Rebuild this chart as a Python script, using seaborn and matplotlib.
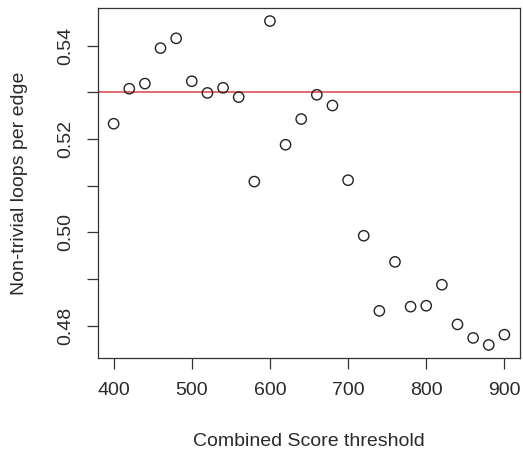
import matplotlib
matplotlib.use("Agg")
import matplotlib.pyplot as plt
import seaborn as sns
import pandas as pd

thresholds = [400, 420, 440, 460, 480, 500, 520, 540, 560, 580, 600, 620, 640,
              660, 680, 700, 720, 740, 760, 780, 800, 820, 840, 860, 880, 900]
loops_per_edge = [0.5233, 0.5308, 0.5319, 0.5395, 0.5416, 0.5324, 0.5299, 0.5310,
                  0.5290, 0.5109, 0.5453, 0.5188, 0.5243, 0.5295, 0.5272, 0.5112,
                  0.4993, 0.4832, 0.4937, 0.4841, 0.4843, 0.4888, 0.4803, 0.4774,
                  0.4759, 0.4781]
reference_level = 0.530
x_ticks = [400, 500, 600, 700, 800, 900]
y_ticks = [0.48, 0.50, 0.52, 0.54]
y_minor = [0.49, 0.51, 0.53]

df = pd.DataFrame({"threshold": thresholds, "loops": loops_per_edge})

sns.set_theme(style="white")
plt.rcParams['font.family'] = ['Liberation Sans', 'DejaVu Sans']

fig = plt.figure(figsize=(5.23, 4.51), dpi=100)
ax = fig.add_axes([0.1874, 0.2062, 0.8069, 0.7761])

ax.axhline(reference_level, color='#e46a6a', lw=1.4, zorder=1)
sns.scatterplot(data=df, x="threshold", y="loops", ax=ax, marker='o',
                s=55, facecolor='none', edgecolor='#222222', linewidth=1.0, zorder=3)

ax.set_xlim(380, 920)
ax.set_ylim(0.4731, 0.5481)
ax.set_xticks(x_ticks)
ax.set_yticks(y_ticks + y_minor)
ax.set_yticklabels([f"{v:.2f}" for v in y_ticks] + [""] * len(y_minor))
ax.set_xticklabels([str(v) for v in x_ticks])
for lbl in ax.get_yticklabels():
    lbl.set_rotation(90)
    lbl.set_va('center')

ax.tick_params(axis='both', which='both', direction='out', length=8, width=0.9,
               color='#333333', labelsize=14, labelcolor='#2a2a2a', pad=9,
               bottom=True, left=True)
for sp in ax.spines.values():
    sp.set_color('#333333')
    sp.set_linewidth(0.9)

ax.set_xlabel("Combined Score threshold", fontsize=14, color='#2a2a2a', labelpad=25)
ax.set_ylabel("Non-trivial loops per edge", fontsize=14, color='#2a2a2a', labelpad=21)

fig.savefig("out.png", dpi=100)
